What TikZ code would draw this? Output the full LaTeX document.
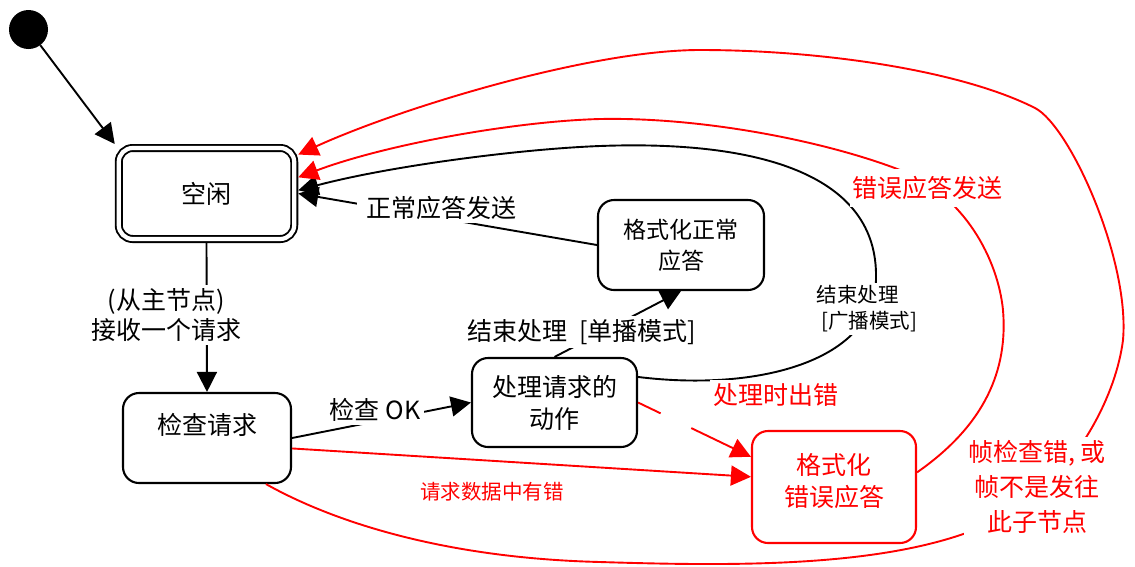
\documentclass[tikz,border=0pt]{standalone}
\usepackage{fontspec}
\setmainfont{Noto Sans CJK SC}
\usetikzlibrary{arrows.meta}
\newcommand\fsbig{\fontsize{25pt}{32pt}\selectfont}
\newcommand\fsmid{\fontsize{23pt}{31pt}\selectfont}
\newcommand\fssmall{\fontsize{20.5pt}{26pt}\selectfont}
\newcommand\fslbl{\fontsize{25pt}{30pt}\selectfont}
\newcommand\fstall{\fontsize{25pt}{35pt}\selectfont}
\begin{document}
\begin{tikzpicture}[x=1pt,y=-1pt,
  stbox/.style={draw, line width=2.1pt, rounded corners=16pt, align=center, font=\fsbig, inner sep=0pt},
  conn/.style={line width=1.9pt, -{Triangle[length=20pt,width=20pt]}},
  lbl/.style={fill=white, inner xsep=4pt, inner ysep=3pt, align=center, font=\fsbig}]
\useasboundingbox (0,0) rectangle (1135,566);
% states
\node[circle, fill=black, minimum size=39pt, inner sep=0pt] (init) at (28.5,29.5) {};
\node[stbox, double, line width=1.9pt, double distance=4.2pt, rounded corners=14pt, minimum width=175.5pt, minimum height=91pt, outer sep=4pt] (idle) at (206.5,193.5) {空闲};
\node[stbox, minimum width=168pt, minimum height=90pt, text height=20pt, text depth=28pt] (check) at (207,438) {检查请求};
\node[stbox, minimum width=165pt, minimum height=89pt] (proc) at (554.5,402.5) {处理请求的\\动作};
\node[stbox, font=\fsmid, minimum width=166pt, minimum height=90pt] (fmtok) at (681,245) {格式化正常\\应答};
\node[stbox, draw=red, text=red, minimum width=164pt, minimum height=112pt] (err) at (834,487)
  {\raisebox{-19pt}[0pt][0pt]{\begin{tabular}[b]{@{}c@{}}格式化\\错误应答\end{tabular}}};
% black connectors
\draw[conn] (init) -- (idle.north west);
\draw[conn] (idle.south) -- (check.north);
\draw[conn] (check.east) -- (proc.west);
\draw[conn] (proc.north) -- (fmtok.south);
\draw[conn] (fmtok.west) -- (idle.east);
\draw[conn] (proc.17) .. controls (760,392) and (876,360) .. (876,278)
  .. controls (878,175) and (760,140) .. (600,146)
  .. controls (520,149) and (390,166) .. (idle.2);
% red connectors
\draw[conn, red] (check.-7) -- (err.173);
\draw[conn, red, dash pattern=on 25pt off 34pt on 400pt] (proc.east) -- (err.160);
\draw[conn, red] (err.10) .. controls (985,425) and (1008,370) .. (1003,310)
  .. controls (998,260) and (965,195) .. (900,170)
  .. controls (822,140) and (700,117) .. (600,119)
  .. controls (520,121) and (390,143) .. (idle.10);
\draw[conn, red] (check.-38) .. controls (330,520) and (440,558) .. (600,562)
  .. controls (760,567) and (940,568) .. (1030,500)
  .. controls (1080,462) and (1116,395) .. (1123,340)
  .. controls (1130,260) and (1070,126) .. (1035,108)
  .. controls (960,70) and (820,50) .. (700,50)
  .. controls (590,50) and (400,108) .. (idle.23);
% labels
\node[lbl, font=\fslbl] (l1) at (166,315) {(从主节点)\\接收一个请求};
\node[lbl] (l2) at (375,410) {检查 OK};
\node[lbl, inner xsep=9pt] (l3) at (441,208) {正常应答发送};
\node[lbl] (l4) at (582,332) {结束处理\ \ [单播模式]};
\node[lbl, font=\fssmall, align=left, inner xsep=3pt] (l5) at (867,309) {结束处理\\\ [广播模式]};
\node[lbl, text=red] (l6) at (776,395) {处理时出错};
\node[lbl, text=red, inner xsep=2pt, inner ysep=7pt] (l7) at (927,188) {错误应答发送};
\node[lbl, text=red, font=\fssmall] (l8) at (492,492) {请求数据中有错};
\node[lbl, text=red, font=\fstall] (l9) at (1037,487) {帧检查错, 或\\帧不是发往\\此子节点};
\end{tikzpicture}
\end{document}
